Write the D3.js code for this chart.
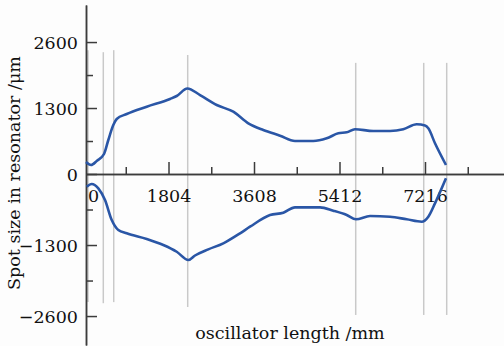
<!DOCTYPE html>
<meta charset="utf-8">
<style>
body, html {
  margin: 0;
  padding: 0;
  background: #fdfdfd;
}
svg {
  display: block;
  font-family: "DejaVu Serif", serif;
}
.axis text {
  font-size: 17.5px;
  fill: #111;
  font-family: "DejaVu Serif", serif;
}
.axis line,
.axis path {
  stroke: #3c3c3c;
  stroke-width: 1.5px;
}
.marker {
  stroke: #c9c9c9;
  stroke-width: 1.5px;
}
.beam {
  fill: none;
  stroke: #2a56a6;
  stroke-width: 2.6px;
  stroke-linejoin: round;
}
.title {
  font-size: 17.5px;
  fill: #111;
}
</style>
<div id="svg-div"></div>
<script src="https://d3js.org/d3.v7.min.js"></script>
<script>
// spot size along the resonator (mm, µm)
const upperX = [63, 169, 295, 443, 534, 639, 711, 922, 1344, 1836, 1977, 2201, 2469, 2821, 3171, 3488, 3804, 4157, 4473, 4859, 5142, 5387, 5564, 5739, 6125, 6478, 6758, 7041, 7216, 7286, 7427, 7659]
const upperY = [236, 177, 262, 394, 670, 965, 1084, 1182, 1326, 1478, 1537, 1684, 1556, 1359, 1227, 999, 867, 755, 650, 650, 703, 802, 821, 883, 847, 847, 881, 979, 955, 900, 605, 177]
const lowerX = [78, 184, 323, 464, 606, 745, 922, 1344, 1694, 1977, 2222, 2363, 2644, 2960, 3313, 3524, 3946, 4226, 4473, 5001, 5281, 5564, 5760, 6056, 6478, 6830, 7147, 7286, 7427, 7659]
const lowerY = [-233, -183, -262, -476, -842, -1025, -1086, -1190, -1300, -1423, -1575, -1492, -1379, -1269, -1086, -965, -751, -709, -610, -610, -672, -751, -829, -769, -782, -829, -873, -782, -537, -79]

// optical element positions (mm) and the span of their marker lines (µm)
const markerX = [105, 428, 648, 2209, 5754, 7189, 7674]
const markerTop = [2440, 2400, 2440, 2345, 2190, 2190, 2190]
const markerBottom = [-2345, -2365, -2345, -2435, -2580, -2580, -2580]

const xMajor = [0, 1804, 3608, 5412, 7216]
const xMinor = [902, 2706, 4510, 6314, 8118]
const yMajor = [-2600, -1300, 0, 1300, 2600]
const yMinor = [-1950, -650, 650, 1950]

const xTitle = "oscillator length /mm"
const yTitle = "Spot size in resonator /μm"

const width = 504
const height = 346

let svg = d3.select("#svg-div")
            .append("svg")
            .attr("width", width)
            .attr("height", height)

let x = d3.scaleLinear()
    .domain([63, 8883])
    .range([86, 504])

let y = d3.scaleLinear()
    .domain([-3130, 0, 3330])
    .range([345, 174, 5])

// element markers
svg.append("g").selectAll("line")
    .data(markerX)
    .enter().append("line")
      .attr("class", "marker")
      .attr("x1", d => x(d))
      .attr("x2", d => x(d))
      .attr("y1", (d, i) => y(markerTop[i]))
      .attr("y2", (d, i) => y(markerBottom[i]))

let fmt = d => d < 0 ? "\u2212" + Math.abs(d) : String(d)

// y axis, ticks pointing inward
svg.append("g")
    .attr("class", "axis")
    .attr("transform", "translate(" + x(63) + ",0)")
    .call(d3.axisLeft(y).tickValues(yMinor).tickSizeInner(-7).tickSizeOuter(0).tickFormat(""))
svg.append("g")
    .attr("class", "axis")
    .attr("transform", "translate(" + x(63) + ",0)")
    .call(d3.axisLeft(y).tickValues(yMajor).tickSizeInner(-11).tickSizeOuter(0).tickPadding(8).tickFormat(fmt))
    .selectAll("text").attr("dy", "0.38em")

// x axis, ticks pointing up
svg.append("g")
    .attr("class", "axis")
    .attr("transform", "translate(0," + y(0) + ")")
    .call(d3.axisBottom(x).tickValues(xMinor).tickSizeInner(-7).tickSizeOuter(0).tickFormat(""))
let xAxis = svg.append("g")
    .attr("class", "axis")
    .attr("transform", "translate(0," + y(0) + ")")
    .call(d3.axisBottom(x).tickValues(xMajor).tickSizeInner(-12).tickSizeOuter(0).tickPadding(16).tickFormat(fmt))
xAxis.selectAll(".tick").filter(d => d === 0).each(function() {
  d3.select(this).select("line").remove()
  d3.select(this).select("text").attr("x", 10)
})

// beam curves
let line = d3.line()
    .x(d => x(d[0]))
    .y(d => y(d[1]))
    .curve(d3.curveMonotoneX)

svg.append("path")
    .attr("class", "beam")
    .attr("d", line(d3.zip(upperX, upperY)))
svg.append("path")
    .attr("class", "beam")
    .attr("d", line(d3.zip(lowerX, lowerY)))

// titles
svg.append("text")
    .attr("class", "title")
    .attr("x", 290)
    .attr("y", 339)
    .attr("text-anchor", "middle")
    .text(xTitle)
svg.append("text")
    .attr("class", "title")
    .attr("transform", "translate(20,173) rotate(-90)")
    .attr("text-anchor", "middle")
    .text(yTitle)
</script>
